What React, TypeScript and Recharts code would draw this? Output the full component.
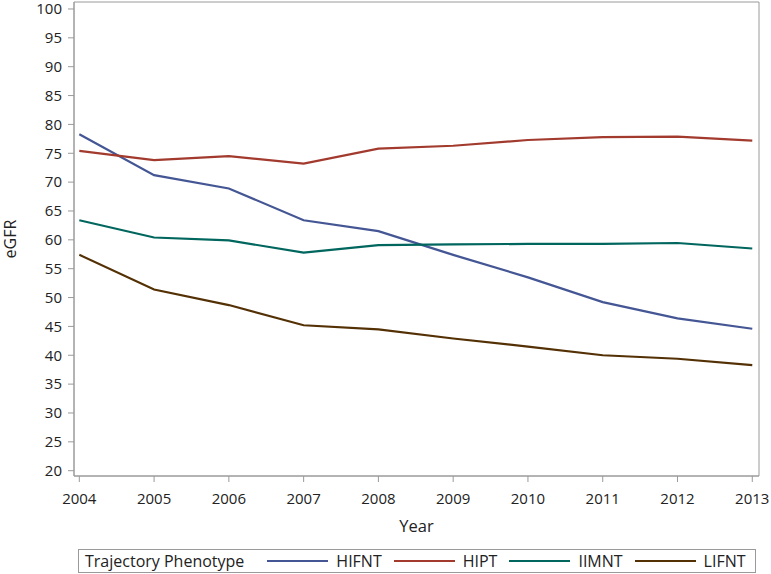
import { LineChart, Line, XAxis, YAxis, ReferenceArea } from "recharts";

const years = [2004, 2005, 2006, 2007, 2008, 2009, 2010, 2011, 2012, 2013];
const hifnt = [78.3, 71.2, 68.9, 63.4, 61.5, 57.4, 53.5, 49.2, 46.4, 44.6];
const hipt = [75.4, 73.8, 74.5, 73.2, 75.8, 76.3, 77.3, 77.8, 77.9, 77.2];
const iimnt = [63.4, 60.4, 59.9, 57.8, 59.1, 59.2, 59.3, 59.3, 59.45, 58.5];
const lifnt = [57.4, 51.4, 48.7, 45.2, 44.5, 42.9, 41.5, 40.0, 39.4, 38.3];
const yTicks = [20, 25, 30, 35, 40, 45, 50, 55, 60, 65, 70, 75, 80, 85, 90, 95, 100];

const series = [
  { key: "HIFNT", color: "#445694", values: hifnt },
  { key: "HIPT", color: "#A23A2E", values: hipt },
  { key: "IIMNT", color: "#01665E", values: iimnt },
  { key: "LIFNT", color: "#543005", values: lifnt },
];

const data = years.map((year, i) => {
  const row: Record<string, number> = { year };
  series.forEach((s) => {
    row[s.key] = s.values[i];
  });
  return row;
});

const xDomain = [2003.929, 2013.09];
const yDomain = [19.08, 101.21];
const font = "'Open Sans', sans-serif";
const axisColor = "#9a9a9a";
const textColor = "#222";

function YLabel(props: any) {
  const vb = props.viewBox || {};
  const cy = (vb.y ?? 0) + (vb.height ?? 0) / 2;
  return (
    <text
      x={16}
      y={cy}
      transform={`rotate(-90, 16, ${cy})`}
      textAnchor="middle"
      fontSize={16}
      fontFamily={font}
      fill={textColor}
    >
      eGFR
    </text>
  );
}

function XLabel(props: any) {
  const vb = props.viewBox || {};
  const cx = (vb.x ?? 0) + (vb.width ?? 0) / 2;
  return (
    <text x={cx} y={532} textAnchor="middle" fontSize={16.5} fontFamily={font} fill={textColor}>
      Year
    </text>
  );
}

export default function App() {
  return (
    <div style={{ position: "absolute", left: 0, top: 0, width: 771, height: 574, background: "#fff" }}>
      <LineChart width={771} height={574} data={data} margin={{ top: 2, right: 12, left: 0, bottom: 38 }}>
        <XAxis
          dataKey="year"
          type="number"
          domain={xDomain}
          ticks={years}
          allowDataOverflow
          height={60}
          tickSize={6}
          tickMargin={11}
          stroke={axisColor}
          tick={{ fill: textColor, fontSize: 15, fontFamily: font }}
          label={<XLabel />}
        />
        <YAxis
          type="number"
          domain={yDomain}
          ticks={yTicks}
          allowDataOverflow
          width={74}
          tickSize={6}
          tickMargin={6}
          stroke={axisColor}
          tick={{ fill: textColor, fontSize: 15, fontFamily: font }}
          label={<YLabel />}
        />
        <ReferenceArea
          x1={xDomain[0]}
          x2={xDomain[1]}
          y1={yDomain[0]}
          y2={yDomain[1]}
          fill="none"
          stroke={axisColor}
          strokeWidth={1}
        />
        {series.map((s) => (
          <Line
            key={s.key}
            dataKey={s.key}
            type="linear"
            stroke={s.color}
            strokeWidth={2.2}
            dot={false}
            isAnimationActive={false}
          />
        ))}
      </LineChart>
      <div
        style={{
          position: "absolute",
          left: 78,
          top: 549,
          width: 676,
          height: 22,
          border: `1px solid ${axisColor}`,
          display: "flex",
          alignItems: "center",
          fontFamily: font,
          fontSize: 16,
          color: textColor,
          whiteSpace: "nowrap",
          boxSizing: "content-box",
        }}
      >
        <span style={{ marginLeft: 6, flexShrink: 0 }}>Trajectory Phenotype</span>
        {series.map((s, i) => (
          <div
            key={s.key}
            style={{ display: "flex", alignItems: "center", flexShrink: 0, marginLeft: i === 0 ? 23 : 12 }}
          >
            <div style={{ width: 61, height: 2, background: s.color, flexShrink: 0 }} />
            <span style={{ marginLeft: 8 }}>{s.key}</span>
          </div>
        ))}
      </div>
    </div>
  );
}
